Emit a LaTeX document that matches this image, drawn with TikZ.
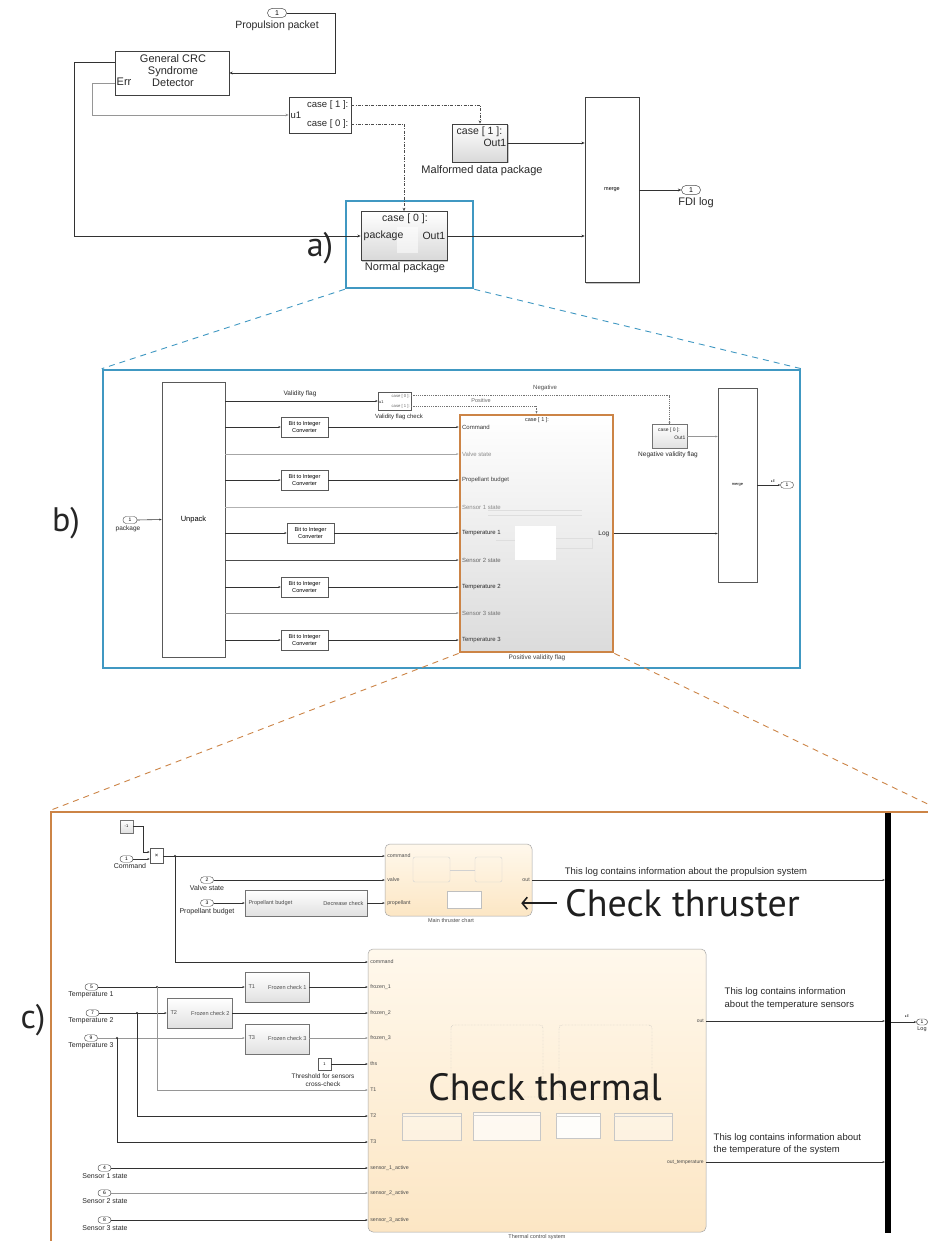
\documentclass[tikz,border=0pt]{standalone}
\usepackage{fontspec}
\setmainfont{Liberation Sans}
\newfontfamily\bigsans{PT Sans}
\newfontfamily\symsans{DejaVu Sans}
\usetikzlibrary{arrows.meta,shadows}

\newcommand\fsz[2]{\fontsize{#1}{#2}\selectfont}

\definecolor{panelblue}{RGB}{64,152,194}
\definecolor{panelorange}{RGB}{204,132,70}
\definecolor{creamtop}{RGB}{255,248,236}
\definecolor{creambot}{RGB}{252,230,196}
\definecolor{wirecol}{RGB}{50,50,50}
\definecolor{wirelite}{RGB}{150,150,150}
\definecolor{inkcol}{RGB}{40,40,40}

\tikzset{
  wire/.style={draw=wirecol, line width=0.6pt},
  wirel/.style={draw=wirelite, line width=0.5pt},
  arrA/.style={-{Stealth[length=3.4pt,width=2.8pt]}},
  arrB/.style={-{Stealth[length=2.4pt,width=2pt]}},
  ddline/.style={draw=black!70, line width=0.6pt, dash pattern=on 3pt off 1.4pt on 0.8pt off 1.4pt},
  dotline/.style={draw=black!55, line width=0.45pt, dash pattern=on 1.2pt off 1pt},
  lbl/.style={inner sep=0.5pt, text=inkcol},
  plab/.style={inner sep=0.3pt, text=black!70, font=\fsz{6}{6.5}},
  tlab/.style={inner sep=0.3pt, text=black!70, font=\fsz{5.3}{6}},
  inport/.style={draw=black!70, line width=0.5pt, fill=white, rounded corners=4.5pt, inner sep=0pt, minimum width=19pt, minimum height=9pt, font=\fsz{7}{7}},
  inportc/.style={draw=black!70, line width=0.45pt, fill=white, rounded corners=3.2pt, inner sep=0pt, minimum width=13pt, minimum height=6.5pt, font=\fsz{5}{5}},
  ablock/.style={draw=black!75, line width=0.6pt, fill=white, inner sep=0pt, drop shadow={shadow xshift=1.3pt, shadow yshift=-1.3pt, fill=black!45}},
  sblock/.style={ablock, top color=white, bottom color=black!15},
  wblock/.style={draw=black!65, line width=0.5pt, fill=white, inner sep=0pt},
  gblock/.style={draw=black!55, line width=0.5pt, top color=white, bottom color=black!12, inner sep=0pt},
  cream/.style={draw=black!35, line width=0.5pt, rounded corners=5pt, top color=creamtop, bottom color=creambot, inner sep=0pt},
  frameblue/.style={draw=panelblue, line width=2.6pt, inner sep=0pt},
  frameorange/.style={draw=panelorange, line width=2.8pt, inner sep=0pt},
  zoomblue/.style={draw=panelblue, line width=0.9pt, dash pattern=on 6pt off 5pt},
  zoomorange/.style={draw=panelorange, line width=0.9pt, dash pattern=on 6pt off 5pt},
  tag/.style={font=\bigsans\fsz{34}{36}, text=black!85, inner sep=0pt, anchor=base},
  callout/.style={font=\bigsans\fsz{38}{42}, text=black!88, inner sep=0pt, anchor=base},
  note/.style={inner sep=0.5pt, text=inkcol, font=\fsz{9.5}{10.5}},
  bigarrow/.style={draw=black!88, line width=1.6pt, -{Straight Barb[length=5pt,width=12pt,line width=1.6pt]}},
}

\begin{document}
\begin{tikzpicture}[x=1pt,y=-1pt]
\useasboundingbox (0,0) rectangle (928,1241);
\fill[white] (0,0) rectangle (928,1241);

% =============== a) top level model ===============
\node[frameblue, minimum width=127pt, minimum height=87pt] (boxa) at (409.5,244.5) {};

\node[inport] (pp) at (277,13) {1};
\node[lbl, font=\fsz{10.5}{11}] (ppl) at (277,26) {Propulsion packet};

\node[ablock, minimum width=114pt, minimum height=44pt] (crc) at (172,73) {};
\node[lbl, align=center, font=\fsz{11}{12}] (crct) at (173,71) {General CRC\\Syndrome\\Detector};
\node[lbl, anchor=west, font=\fsz{11}{12}] (crcerr) at (116,82) {Err};

\node[ablock, minimum width=62pt, minimum height=36pt] (sw) at (320,115) {};
\node[lbl, anchor=west, font=\fsz{9.5}{10}] (swu) at (290,115) {u1};
\node[lbl, anchor=east, font=\fsz{9.5}{10}] (swc1) at (349,105) {case [ 1 ]:};
\node[lbl, anchor=east, font=\fsz{9.5}{10}] (swc0) at (349,124) {case [ 0 ]:};

\node[sblock, minimum width=55pt, minimum height=38pt] (mal) at (480,143) {};
\node[lbl, anchor=west, font=\fsz{10.5}{11}] (malc) at (456,132) {case [ 1 ]:};
\node[lbl, anchor=east, font=\fsz{10.5}{11}] (malo) at (507,143) {Out1};
\node[lbl, font=\fsz{11}{12}] (mall) at (482,171) {Malformed data package};

\node[sblock, minimum width=86pt, minimum height=49pt] (nor) at (404,236) {};
\fill[white, opacity=0.55] (397,227) rectangle (418,253);
\node[lbl, font=\fsz{10.5}{11}] (norc) at (405,219) {case [ 0 ]:};
\node[lbl, anchor=west, font=\fsz{10.5}{11}] (norp) at (363,236) {package};
\node[lbl, anchor=east, font=\fsz{10.5}{11}] (noro) at (446,236) {Out1};
\node[lbl, font=\fsz{11}{12}] (norl) at (405,268) {Normal package};

\node[ablock, minimum width=54pt, minimum height=185pt, font=\fsz{5.5}{6}] (mg1) at (612,190) {merge};
\node[inport] (fdi) at (691,190) {1};
\node[lbl, font=\fsz{11}{12}] (fdil) at (696,203) {FDI log};

\coordinate (crcO) at (crc.west |- 0,62);
\coordinate (crcE) at (crc.west |- 0,83);
\coordinate (swo1) at (sw.east |- 0,105);
\coordinate (swo0) at (sw.east |- 0,124);

\draw[wire,arrA] (pp.east) -- (335,13) -- (335,73) -- (crc.east);
\draw[wire,arrA] (crcO) -- (74,62) |- (nor.west);
\draw[wirel,arrA] (crcE) -- (92,83) |- (sw.west);
\draw[ddline,arrA] (swo1) -| (mal.north);
\draw[ddline,arrA] (swo0) -| (nor.north);
\draw[wire,arrA] (mal.east) -- (mal.east -| mg1.west);
\draw[wire,arrA] (nor.east) -- (nor.east -| mg1.west);
\draw[wire,arrA] (mg1.east) -- (fdi.west);

\node[tag] (taga) at (320,257) {a)};

% =============== b) Normal package ===============
\node[frameblue, minimum width=697pt, minimum height=298pt] (boxb) at (451.5,519) {};
\draw[zoomblue] (boxa.south west) -- (boxb.north west);
\draw[zoomblue] (boxa.south east) -- (boxb.north east);
\node[tag] (tagb) at (66,531) {b)};

\node[inportc, minimum width=14pt, minimum height=7pt] (pkg) at (130,520) {1};
\node[lbl, font=\fsz{6.5}{7}] (pkgl) at (128,529) {package};
\node[wblock, minimum width=63pt, minimum height=275pt, font=\fsz{7.5}{8}] (unp) at (193.5,519.5) {Unpack};
\draw[wire,arrB] (pkg.east) -- (unp.west);

\node[frameorange, top color=white, bottom color=black!14, minimum width=153pt, minimum height=237pt] (pvf) at (536.5,533.5) {};
\begin{scope}[draw=black!13, line width=0.4pt]
  \draw (488,510) -- (582,510);
  \draw (488,515) -- (582,515);
  \draw (496,540) -- (515,540);
  \draw (556,538) -- (592,538) -- (592,548) -- (556,548);
\end{scope}
\fill[white] (515,526) rectangle (556,560);
\node[lbl, font=\fsz{5.5}{6}] (pvfc) at (537,420) {case [ 1 ]:};
\node[lbl, anchor=east, font=\fsz{6.5}{7}] (pvflog) at (610,533.5) {Log};
\node[lbl, font=\fsz{6.5}{7}, text=black!75] (pvfl) at (537,658) {Positive validity flag};

\foreach \i/\y in {1/427,2/454,3/480,4/507,5/533,6/560,7/587,8/613,9/640} {
  \coordinate (uo\i) at (unp.east |- 0,\y);
  \coordinate (pi\i) at (pvf.west |- 0,\y);
}
\foreach \i/\t/\c in {1/Command/black!80, 2/Valve state/black!45, 3/Propellant budget/black!75,
  4/Sensor 1 state/black!45, 5/Temperature 1/black!85, 6/Sensor 2 state/black!60,
  7/Temperature 2/black!85, 8/Sensor 3 state/black!55, 9/Temperature 3/black!80} {
  \node[plab, text=\c, anchor=west] (pl\i) at ([xshift=3pt]pi\i) {\t};
}

\foreach \i/\x/\y in {1/304.5/427, 3/304.5/480, 5/310.5/533, 7/304.5/587, 9/304.5/640} {
  \node[wblock, minimum width=47pt, minimum height=20pt, align=center, font=\fsz{5.6}{6.3}] (bic\i) at (\x,\y) {Bit to Integer\\Converter};
}
\foreach \i in {1,3,5,7,9} {
  \draw[wire,arrB] (uo\i) -- (bic\i.west);
  \draw[wire,arrB] (bic\i.east) -- (pi\i);
}
\foreach \i/\c in {2/black!35, 4/black!30, 6/black!70, 8/black!45} {
  \draw[draw=\c, line width=0.5pt, arrB] (uo\i) -- (pi\i);
}

\coordinate (uo0) at (unp.east |- 0,401);
\node[wblock, minimum width=33pt, minimum height=18pt] (vfc) at (394.5,401) {};
\node[lbl, anchor=west, font=\fsz{4}{4}] (vfu) at (378.5,402) {u1};
\node[lbl, anchor=east, font=\fsz{4.2}{4.5}, text=black!60] (vfc0) at (410.5,396) {case [ 0 ]:};
\node[lbl, anchor=east, font=\fsz{4.2}{4.5}, text=black!60] (vfc1) at (410.5,406) {case [ 1 ]:};
\node[lbl, font=\fsz{6}{6.5}] (vfcl) at (399,417) {Validity flag check};
\node[lbl, font=\fsz{6.5}{7}] (vfl) at (300,394) {Validity flag};
\draw[wire,arrB] (uo0) -- (vfc.west);

\node[gblock, minimum width=35pt, minimum height=24pt] (neg) at (669.5,436.5) {};
\node[lbl, font=\fsz{5}{5.5}] (negc) at (669,430) {case [ 0 ]:};
\node[lbl, anchor=east, font=\fsz{5}{5.5}] (nego) at (686,438) {Out1};
\node[lbl, font=\fsz{6.5}{7}] (negl) at (668,455) {Negative validity flag};

\coordinate (vneg) at (vfc.east |- 0,395);
\coordinate (vpos) at (vfc.east |- 0,406);
\draw[dotline,arrB] (vneg) -| (neg.north);
\draw[dotline,arrB] (vpos) -| (pvf.north);
\node[lbl, font=\fsz{6}{6.5}, text=black!70] (lneg) at (545,388) {Negative};
\node[lbl, font=\fsz{5.5}{6}, text=black!60] (lpos) at (481,401) {Positive};

\node[wblock, minimum width=39pt, minimum height=194pt, font=\fsz{4}{4}] (mg2) at (737.5,485) {merge};
\draw[wirel,arrB] (neg.east) -- (neg.east -| mg2.west);
\draw[wire,arrB] (pvf.east) -- (pvf.east -| mg2.west);
\node[inportc] (ob) at (787,485) {1};
\draw[wire,arrB] (mg2.east) -- (ob.west);
\node[lbl, font=\symsans\fsz{3.5}{4}] (obm) at (773,481) {▸E};

% =============== c) Positive validity flag ===============
\node[frameorange, minimum width=889pt, minimum height=448pt] (boxc) at (495.5,1036) {};
\draw[zoomorange] (pvf.south west) -- (boxc.north west);
\draw[zoomorange] (pvf.south east) -- (boxc.north east);
\node[tag] (tagc) at (33,1028) {c)};

% command path
\node[gblock, minimum width=13pt, minimum height=13pt, font=\fsz{4}{4}] (cst) at (126.5,826.5) {-1};
\node[wblock, minimum width=13pt, minimum height=15pt, font=\fsz{6}{6}] (prod) at (156.5,856) {×};
\node[inportc] (cmd) at (126.5,859) {1};
\node[lbl, font=\fsz{7}{7.5}] (cmdl) at (130,866) {Command};
\coordinate (pin1) at (prod.west |- 0,852);
\coordinate (pin2) at (prod.west |- 0,859);
\draw[wire,arrB] (cst.east) -- (143,826.5) |- (pin1);
\draw[wire,arrB] (cmd.east) -- (pin2);

% thruster chart
\node[cream, minimum width=147pt, minimum height=72pt] (chart) at (458.5,880) {};
\begin{scope}[line width=0.4pt]
  \draw[draw=black!18, rounded corners=2pt] (413,857) rectangle (450,882);
  \draw[draw=black!18, rounded corners=2pt] (475,857) rectangle (502,882);
  \draw[draw=black!18] (450,870) -- (475,870);
  \draw[draw=black!25, fill=white] (447,891) rectangle (481,908);
\end{scope}
\coordinate (ci1) at (chart.west |- 0,856);
\coordinate (ci2) at (chart.west |- 0,880);
\coordinate (ci3) at (chart.west |- 0,903);
\node[tlab, anchor=west] (cl1) at ([xshift=2pt]ci1) {command};
\node[tlab, anchor=west] (cl2) at ([xshift=2pt]ci2) {valve};
\node[tlab, anchor=west] (cl3) at ([xshift=2pt]ci3) {propellant};
\node[tlab, anchor=east] (clo) at ([xshift=-2pt]chart.east) {out};
\node[lbl, font=\fsz{5.5}{6}, text=black!70] (chartl) at (451,921) {Main thruster chart};

\node[inportc] (vs) at (207,880) {2};
\node[lbl, font=\fsz{7}{7.5}] (vsl) at (207,888) {Valve state};
\node[inportc] (pb) at (207,903) {3};
\node[lbl, font=\fsz{7}{7.5}] (pbl) at (207,912) {Propellant budget};
\node[gblock, minimum width=122pt, minimum height=26pt] (pbd) at (306,903) {};
\node[tlab, anchor=west, font=\fsz{5.6}{6}] (pbd1) at (248,903) {Propellant budget};
\node[tlab, anchor=east, font=\fsz{5.6}{6}] (pbd2) at (364,903) {Decrease check};

\draw[wire,arrB] (prod.east) -- (ci1);
\draw[wire,arrB] (vs.east) -- (ci2);
\draw[wire,arrB] (pb.east) -- (pbd.west);
\draw[wire,arrB] (pbd.east) -- (ci3);

% thermal control system
\node[cream, minimum width=338pt, minimum height=283pt] (therm) at (537,1090.5) {};
\begin{scope}[line width=0.45pt]
  \draw[draw=black!30, densely dotted, rounded corners=3pt] (451,1025) rectangle (543,1097);
  \draw[draw=black!30, densely dotted, rounded corners=3pt] (559,1025) rectangle (652,1097);
  \draw[draw=black!22, fill=white, fill opacity=0.35] (402,1113) rectangle (461,1140);
  \draw[draw=black!22, fill=white, fill opacity=0.7] (473,1112) rectangle (540,1140);
  \draw[draw=black!22, fill=white, fill opacity=0.9] (556,1113) rectangle (600,1138);
  \draw[draw=black!22, fill=white, fill opacity=0.35] (614,1113) rectangle (672,1140);
  \draw[draw=black!18] (402,1116) -- (461,1116);
  \draw[draw=black!18] (473,1115) -- (540,1115);
  \draw[draw=black!18] (556,1116) -- (600,1116);
  \draw[draw=black!18] (614,1116) -- (672,1116);
\end{scope}
\foreach \i/\y/\t in {1/962/command, 2/987/frozen\_1, 3/1013/frozen\_2, 4/1038/frozen\_3,
  5/1064/ths, 6/1090/T1, 7/1116/T2, 8/1142/T3, 9/1168/sensor\_1\_active,
  10/1193/sensor\_2\_active, 11/1220/sensor\_3\_active} {
  \coordinate (ti\i) at (therm.west |- 0,\y);
  \node[tlab, anchor=west] (tl\i) at ([xshift=2pt]ti\i) {\t};
}
\coordinate (thout) at (therm.east |- 0,1021);
\coordinate (thtmp) at (therm.east |- 0,1162);
\node[tlab, anchor=east, font=\fsz{5}{5.5}] (tlo1) at ([xshift=-2pt]thout) {out};
\node[tlab, anchor=east, font=\fsz{5}{5.5}] (tlo2) at ([xshift=-2pt]thtmp) {out\_temperature};
\node[lbl, font=\fsz{5.5}{6}, text=black!70] (therml) at (537,1237.5) {Thermal control system};

% command branch into the thermal block
\coordinate (jc) at (175,856);
\fill[wirecol] (jc) circle (1.1pt);
\draw[wire,arrB] (jc) |- (ti1);

% temperature inputs and frozen checks
\node[inportc] (t1) at (91.5,987) {5};
\node[lbl, font=\fsz{7}{7.5}] (t1l) at (91,995) {Temperature 1};
\node[inportc] (t2) at (92.5,1013) {7};
\node[lbl, font=\fsz{7}{7.5}] (t2l) at (91,1021) {Temperature 2};
\node[inportc] (t3) at (91,1038) {9};
\node[lbl, font=\fsz{7}{7.5}] (t3l) at (91,1046) {Temperature 3};

\node[gblock, minimum width=64pt, minimum height=30pt] (fc1) at (277,987) {};
\node[tlab, anchor=west, font=\fsz{5.6}{6}] (fc1a) at (248,987) {T1};
\node[tlab, anchor=east, font=\fsz{5.6}{6}] (fc1b) at (307,987) {Frozen check 1};
\node[gblock, minimum width=65pt, minimum height=30pt] (fc2) at (199.5,1013) {};
\node[tlab, anchor=west, font=\fsz{5.6}{6}] (fc2a) at (170,1013) {T2};
\node[tlab, anchor=east, font=\fsz{5.6}{6}] (fc2b) at (230,1013) {Frozen check 2};
\node[gblock, minimum width=64pt, minimum height=30pt] (fc3) at (277,1039) {};
\node[tlab, anchor=west, font=\fsz{5.6}{6}] (fc3a) at (248,1038) {T3};
\node[tlab, anchor=east, font=\fsz{5.6}{6}] (fc3b) at (307,1038) {Frozen check 3};

\draw[wire,arrB] (t1.east) -- (fc1.west);
\draw[wire,arrB] (t2.east) -- (fc2.west);
\draw[wirel,arrB] (t3.east) -- (fc3.west |- t3.east);
\draw[wire,arrB] (fc1.east) -- (ti2);
\draw[wire,arrB] (fc2.east) -- (ti3);
\draw[wirel,arrB] (fc3.east |- ti4) -- (ti4);

\coordinate (j1) at (157,987);
\coordinate (j2) at (137,1013);
\coordinate (j3) at (117,1038);
\foreach \j in {j1,j2,j3} {\fill[wirecol] (\j) circle (1.1pt);}
\draw[wirel,arrB] (j1) |- (ti6);
\draw[wire,arrB] (j2) |- (ti7);
\draw[wire,arrB] (j3) |- (ti8);

\node[wblock, minimum width=13pt, minimum height=12pt, font=\fsz{4}{4}] (thc) at (324.5,1064) {1};
\node[lbl, align=center, font=\fsz{6.5}{8}] (thcl) at (323,1080) {Threshold for sensors\\cross-check};
\draw[wire,arrB] (thc.east) -- (ti5);

% sensor state inputs
\node[inportc] (s1) at (104.5,1168) {4};
\node[lbl, font=\fsz{7}{7.5}] (s1l) at (105,1176) {Sensor 1 state};
\node[inportc] (s2) at (104.5,1193) {6};
\node[lbl, font=\fsz{7}{7.5}] (s2l) at (105,1201) {Sensor 2 state};
\node[inportc] (s3) at (104.5,1220) {8};
\node[lbl, font=\fsz{7}{7.5}] (s3l) at (105,1228) {Sensor 3 state};
\draw[wire,arrB] (s1.east) -- (ti9);
\draw[wirel,arrB] (s2.east) -- (ti10);
\draw[wire,arrB] (s3.east) -- (ti11);

% bus bar and log output
\node[fill=black, minimum width=6pt, minimum height=420pt, inner sep=0pt] (bar) at (888,1023) {};
\draw[wire,arrB] (chart.east) -- (chart.east -| bar.west);
\draw[wire,arrB] (thout) -- (thout -| bar.west);
\draw[wire,arrB] (thtmp) -- (thtmp -| bar.west);
\coordinate (barout) at (bar.east |- 0,1022);
\node[inportc, minimum width=11pt, minimum height=6pt] (logp) at (922,1022) {1};
\draw[wire,arrB] (barout) -- (logp.west);
\node[lbl, font=\symsans\fsz{3.5}{4}] (logm) at (907,1016) {▸E};
\node[lbl, font=\fsz{5.5}{6}] (logl) at (922,1029) {Log};

% annotations
\node[note] (txp) at (686,872) {This log contains information about the propulsion system};
\node[note, anchor=west] (txs1) at (724,992) {This log contains information};
\node[note, anchor=west] (txs2) at (724,1005) {about the temperature sensors};
\node[note, anchor=west] (txt1) at (713,1138) {This log contains information about};
\node[note, anchor=west] (txt2) at (713,1150) {the temperature of the system};

\node[callout] (ckt) at (682.5,916.5) {Check thruster};
\draw[bigarrow] ([xshift=-8pt]ckt.west) -- ([xshift=-11pt]chart.east |- ckt.west);
\node[callout] (ckth) at (545,1100.5) {Check thermal};

\end{tikzpicture}
\end{document}
